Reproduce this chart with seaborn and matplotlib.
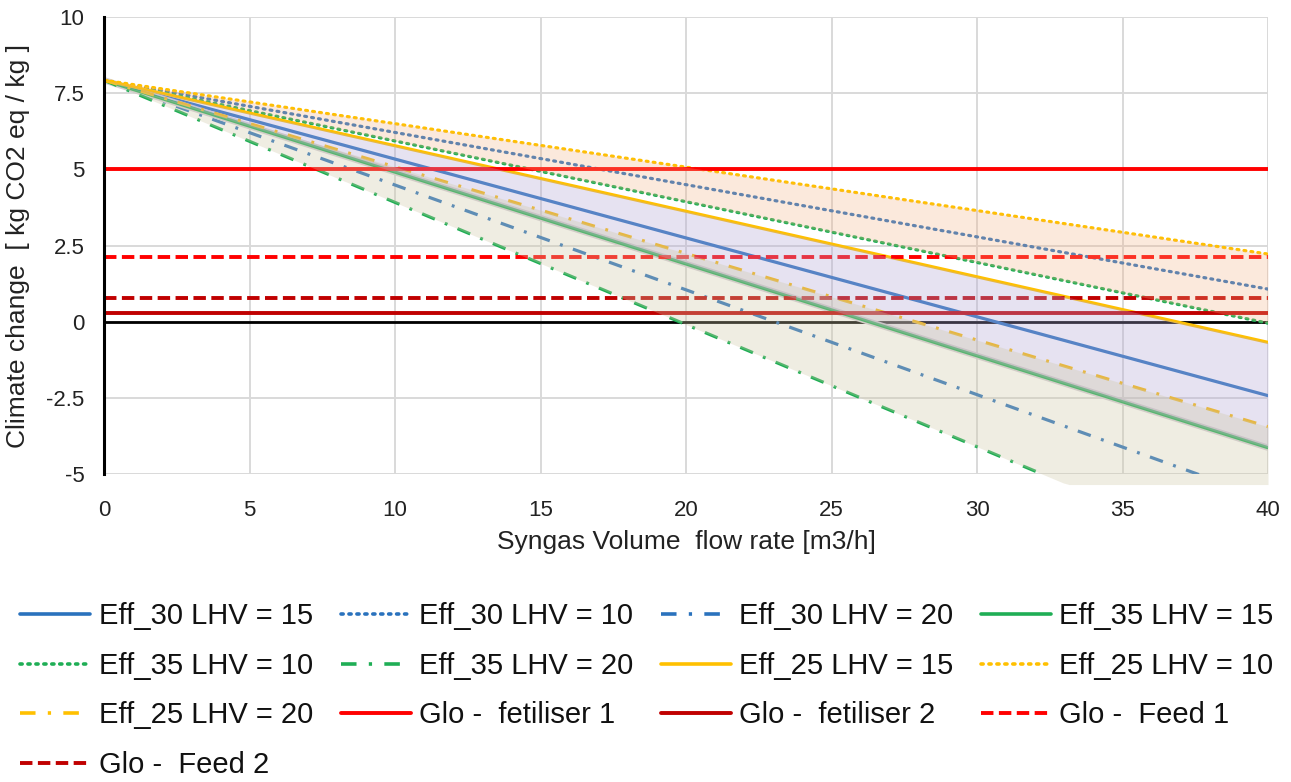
import numpy as np
import pandas as pd
import matplotlib
matplotlib.use("Agg")
import matplotlib.pyplot as plt
import matplotlib.patheffects as pe
from matplotlib.lines import Line2D
import seaborn as sns

# Syngas volume flow rate [m3/h] at the two ends of each straight line
flow = [0, 40]

# Climate change [kg CO2 eq / kg] for each efficiency / LHV combination
eff30_lhv15 = [7.93, -2.43]
eff30_lhv10 = [7.93, 1.07]
eff30_lhv20 = [7.93, -5.84]
eff35_lhv15 = [7.93, -4.14]
eff35_lhv10 = [7.93, -0.05]
eff35_lhv20 = [7.93, -8.12]
eff25_lhv15 = [7.93, -0.68]
eff25_lhv10 = [7.93, 2.22]
eff25_lhv20 = [7.93, -3.45]

# Global reference values (horizontal lines)
glo_fertiliser1 = 5.0
glo_fertiliser2 = 0.28
glo_feed1 = 2.13
glo_feed2 = 0.78

series_labels = [
    "Eff_30 LHV = 15", "Eff_30 LHV = 10", "Eff_30 LHV = 20",
    "Eff_35 LHV = 15", "Eff_35 LHV = 10", "Eff_35 LHV = 20",
    "Eff_25 LHV = 15", "Eff_25 LHV = 10", "Eff_25 LHV = 20",
]
series_values = [
    eff30_lhv15, eff30_lhv10, eff30_lhv20,
    eff35_lhv15, eff35_lhv10, eff35_lhv20,
    eff25_lhv15, eff25_lhv10, eff25_lhv20,
]
ref_labels = ["Glo -  fetiliser 1", "Glo -  fetiliser 2", "Glo -  Feed 1", "Glo -  Feed 2"]
ref_values = [glo_fertiliser1, glo_fertiliser2, glo_feed1, glo_feed2]

x_ticks = [0, 5, 10, 15, 20, 25, 30, 35, 40]
y_ticks = [-5, -2.5, 0, 2.5, 5, 7.5, 10]
y_tick_labels = ["-5", "-2.5", "0", "2.5", "5", "7.5", "10"]

# ---- styles ----
BLUE, GREEN, YELLOW = "#2a72bd", "#1fae55", "#ffc000"
RED, DARKRED = "#ff0000", "#c00000"
solid = "-"
dotted = (0, (0.6, 1.6))
dashdot = (0, (4.3, 3.4, 0.9, 3.4))
series_style = [
    (BLUE, solid), (BLUE, dotted), (BLUE, dashdot),
    (GREEN, solid), (GREEN, dotted), (GREEN, dashdot),
    (YELLOW, solid), (YELLOW, dotted), (YELLOW, dashdot),
]
ref_style = [(RED, "-"), (DARKRED, "-"), (RED, (0, (3.2, 1.4))), (DARKRED, (0, (3.2, 1.4)))]

sns.set_theme(style="white")
plt.rcParams["font.family"] = ["Liberation Sans", "DejaVu Sans"]

fig = plt.figure(figsize=(12.91, 7.82), dpi=100)
ax = fig.add_axes([0.0806, 0.394, 0.9016, 0.584])

handles = {}
for lab, vals, (col, ls) in zip(series_labels, series_values, series_style):
    df = pd.DataFrame({"flow": flow, "cc": vals})
    sns.lineplot(data=df, x="flow", y="cc", ax=ax, color=col, linewidth=2.3,
                 legend=False, zorder=3)
    ln = ax.lines[-1]
    ln.set_linestyle(ls)
    if ls == dotted:
        ln.set_dash_capstyle("round")
    if lab == "Eff_35 LHV = 15":
        ln.set_path_effects([pe.Stroke(linewidth=4.6, foreground="#d4d0d8"), pe.Normal()])
    h = Line2D([], [], color=col, linewidth=2.6, linestyle=ls)
    if ls == dotted:
        h.set_dash_capstyle("round")
    handles[lab] = h

# zero line
ax.axhline(0, color="black", linewidth=2.0, zorder=2.5)

for lab, val, (col, ls) in zip(ref_labels, ref_values, ref_style):
    ax.axhline(val, color=col, linewidth=2.8, linestyle=ls, zorder=3)
    handles[lab] = Line2D([], [], color=col, linewidth=2.8, linestyle=ls)

# translucent ranges per LHV (drawn above the lines)
xs = np.array(flow, dtype=float)
ax.fill_between(xs, eff25_lhv10, eff35_lhv10, color="#f4b183", alpha=0.28,
                linewidth=0, zorder=4)
ax.fill_between(xs, eff25_lhv15, eff35_lhv15, color="#b4a7d6", alpha=0.32,
                linewidth=0, zorder=4)
xf = np.linspace(0, 40, 200)
upper20 = np.interp(xf, xs, eff25_lhv20)
lower20 = np.maximum(np.interp(xf, xs, eff35_lhv20), -5.35)
ax.fill_between(xf, upper20, lower20, color="#cfc8a6", alpha=0.32,
                linewidth=0, zorder=4, clip_on=False)

ax.set_xlim(0, 40)
ax.set_ylim(-5, 10)
ax.set_xticks(x_ticks)
ax.set_yticks(y_ticks)
ax.set_yticklabels(y_tick_labels)
ax.tick_params(axis="both", labelsize=16, length=0, colors="#222222")
ax.tick_params(axis="x", pad=19)
ax.tick_params(axis="y", pad=14)
ax.grid(True, color="#d9d9d9", linewidth=1.4)
ax.set_axisbelow(True)
for side in ["top", "right", "bottom"]:
    ax.spines[side].set_visible(False)
ax.spines["left"].set_color("black")
ax.spines["left"].set_linewidth(2.2)
ax.spines["left"].set_zorder(5)

ax.set_xlabel("Syngas Volume  flow rate [m3/h]", fontsize=19, color="#222222", labelpad=6)
ax.set_ylabel("Climate change  [ kg CO2 eq / kg ]", fontsize=19, color="#222222", labelpad=12)

# legend laid out row by row in four columns
order = series_labels + ref_labels
ncol = 4
cols = [order[i::ncol] for i in range(ncol)]
flat = [lab for c in cols for lab in c]
leg = fig.legend([handles[l] for l in flat], flat, loc="center",
                 bbox_to_anchor=(0.501, 0.117), ncol=ncol, frameon=False,
                 fontsize=21, handlelength=2.4, handletextpad=0.28,
                 columnspacing=0.95, labelspacing=0.74, borderpad=0.2)
for t in leg.get_texts():
    t.set_color("#111111")

fig.savefig("out.png", dpi=100)
